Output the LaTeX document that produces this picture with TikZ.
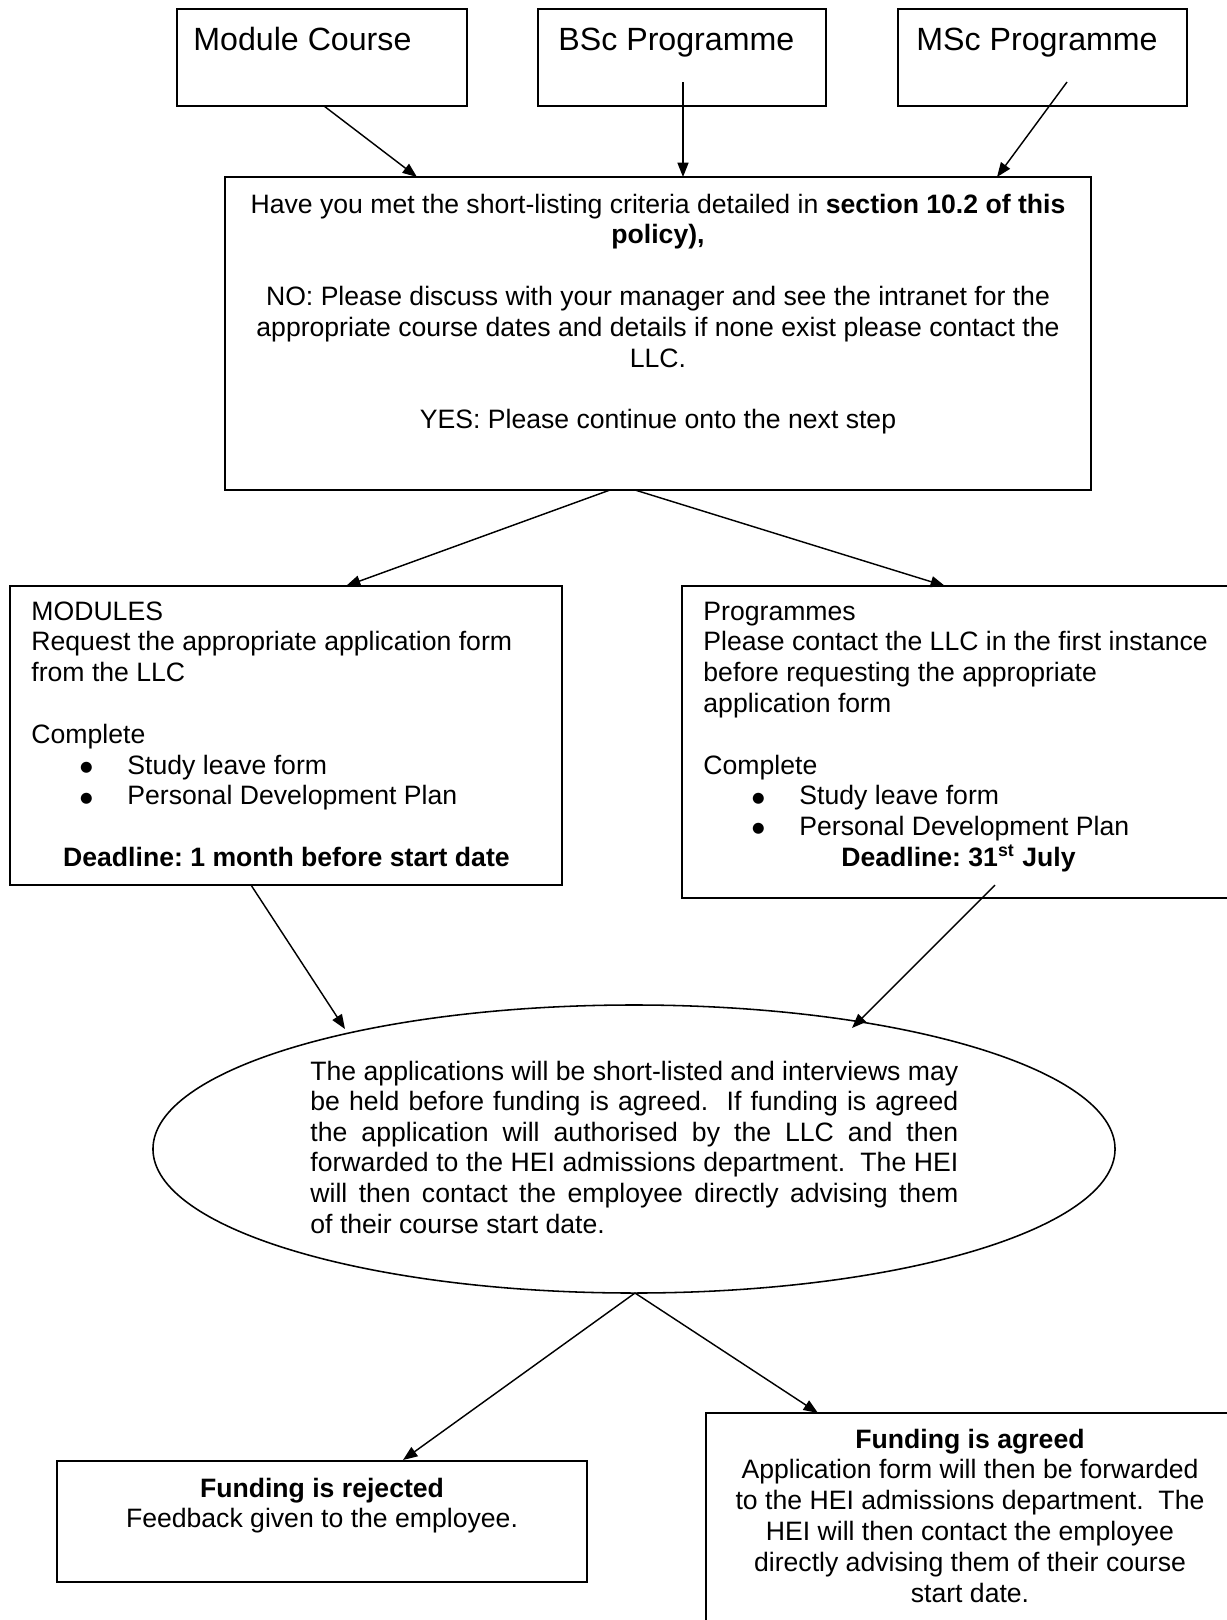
\documentclass[tikz,border=0pt]{standalone}
\usepackage{fontspec}
\setmainfont{Liberation Sans}
\newfontfamily\symfnt{DejaVu Sans}
\usetikzlibrary{shapes.geometric,arrows.meta}
\hbadness=10000
\frenchspacing
\newcommand\bodyfont{\fontsize{12pt}{13.9pt}\selectfont}
\newcommand\blt{\hspace*{22pt}\makebox[21.3pt][l]{\raisebox{1.3pt}{\symfnt\fontsize{6.5pt}{7pt}\selectfont ●}}}
\begin{document}
\begin{tikzpicture}[x=0.451pt,y=-0.451pt,
  box/.style={draw,line width=0.9pt,inner sep=0pt},
  conn/.style={line width=0.65pt,-{Triangle[length=6.5pt,width=5pt]}},
  txt/.style={inner sep=0pt},
]
\useasboundingbox (0,0) rectangle (1227,1620);
\clip (0,0) rectangle (1227,1620);

% boxes
\node[box,minimum width=130.8pt,minimum height=43.7pt] (mod) at (322,57.5) {};
\node[box,minimum width=129.9pt,minimum height=43.7pt] (bsc) at (682,57.5) {};
\node[box,minimum width=130.3pt,minimum height=43.7pt] (msc) at (1042.5,57.5) {};
\node[box,minimum width=390.6pt,minimum height=141.2pt] (main) at (658,333.5) {};
\node[box,minimum width=249.2pt,minimum height=134.8pt] (modules) at (286,735.5) {};
\node[box,minimum width=251.7pt,minimum height=140.7pt] (progs) at (961,742) {};
\node[draw,ellipse,line width=0.7pt,inner sep=0pt,minimum width=433.9pt,minimum height=129.9pt] (ell) at (634,1149) {};
\node[box,minimum width=239pt,minimum height=54.6pt] (rej) at (322,1521.5) {};
\node[box,minimum width=238.1pt,minimum height=102.4pt] (agr) at (970,1526.5) {};

% texts
\node[txt,anchor=base west] (tmod) at (193,50) {\fontsize{14.5pt}{16pt}\selectfont Module Course};
\node[txt,anchor=base west] (tbsc) at (558,50) {\fontsize{14.5pt}{16pt}\selectfont BSc Programme};
\node[txt,anchor=base west] (tmsc) at (916,50) {\fontsize{14.5pt}{16pt}\selectfont MSc Programme};

\node[txt,anchor=base] (tmain) at (658,213) {\begin{minipage}[t]{400pt}\bodyfont\centering
Have you met the short-listing criteria detailed in \textbf{section 10.2 of this}\\
\textbf{policy),}\\[13.9pt]
NO: Please discuss with your manager and see the intranet for the\\
appropriate course dates and details if none exist please contact the\\
LLC.\\[13.9pt]
YES: Please continue onto the next step
\end{minipage}};

\node[txt,anchor=base west] (tmodules) at (31,620) {\begin{minipage}[t]{230pt}\bodyfont\raggedright
MODULES\\
Request the appropriate application form\\
from the LLC\\[13.9pt]
Complete\\
\blt Study leave form\\
\blt Personal Development Plan\\[13.9pt]
\makebox[\linewidth][c]{\textbf{Deadline: 1 month before start date}}
\end{minipage}};

\node[txt,anchor=base west] (tprogs) at (703,620) {\begin{minipage}[t]{230pt}\bodyfont\raggedright
Programmes\\
Please contact the LLC in the first instance\\
before requesting the appropriate\\
application form\\[13.9pt]
Complete\\
\blt Study leave form\\
\blt Personal Development Plan\\
\makebox[\linewidth][c]{\textbf{Deadline: 31\textsuperscript{st} July}}
\end{minipage}};

\node[txt,anchor=base west] (tell) at (310,1080) {\begin{minipage}[t]{292.2pt}\bodyfont\parindent=0pt\fontsize{12pt}{13.8pt}\selectfont
The applications will be short-listed and interviews may\linebreak
be held before funding is agreed.\ \ If funding is agreed\linebreak
the application will authorised by the LLC and then\linebreak
forwarded to the HEI admissions department.\ \ The HEI\linebreak
will then contact the employee directly advising them\linebreak
of their course start date.
\end{minipage}};

\node[txt,anchor=base] (trej) at (322,1497) {\begin{minipage}[t]{230pt}\bodyfont\centering
\textbf{Funding is rejected}\\
Feedback given to the employee.
\end{minipage}};

\node[txt,anchor=base] (tagr) at (970,1448) {\begin{minipage}[t]{230pt}\bodyfont\centering
\textbf{Funding is agreed}\\
Application form will then be forwarded\\
to the HEI admissions department.\ \ The\\
HEI will then contact the employee\\
directly advising them of their course\\
start date.
\end{minipage}};

% connector end points
\coordinate (a1s) at (324,106);  \coordinate (a1e) at (417,177);
\coordinate (a2s) at (683,82);   \coordinate (a2e) at (683,177);
\coordinate (a3s) at (1067,82);  \coordinate (a3e) at (997,177);
\coordinate (a4s) at (610,490);  \coordinate (a4e) at (346,586);
\coordinate (a5s) at (635,490);  \coordinate (a5e) at (945,586);
\coordinate (a6s) at (251,885);  \coordinate (a6e) at (345,1029);
\coordinate (a7s) at (995,885);  \coordinate (a7e) at (852,1028);
\coordinate (a8s) at (635,1293); \coordinate (a8e) at (403,1460);
\coordinate (a9s) at (635,1293); \coordinate (a9e) at (818,1413);

\draw[conn] (a1s) -- (a1e);
\draw[conn] (a2s) -- (a2e);
\draw[conn] (a3s) -- (a3e);
\draw[conn] (a4s) -- (a4e);
\draw[conn] (a5s) -- (a5e);
\draw[conn] (a6s) -- (a6e);
\draw[conn] (a7s) -- (a7e);
\draw[conn] (a8s) -- (a8e);
\draw[conn] (a9s) -- (a9e);
\end{tikzpicture}
\end{document}
